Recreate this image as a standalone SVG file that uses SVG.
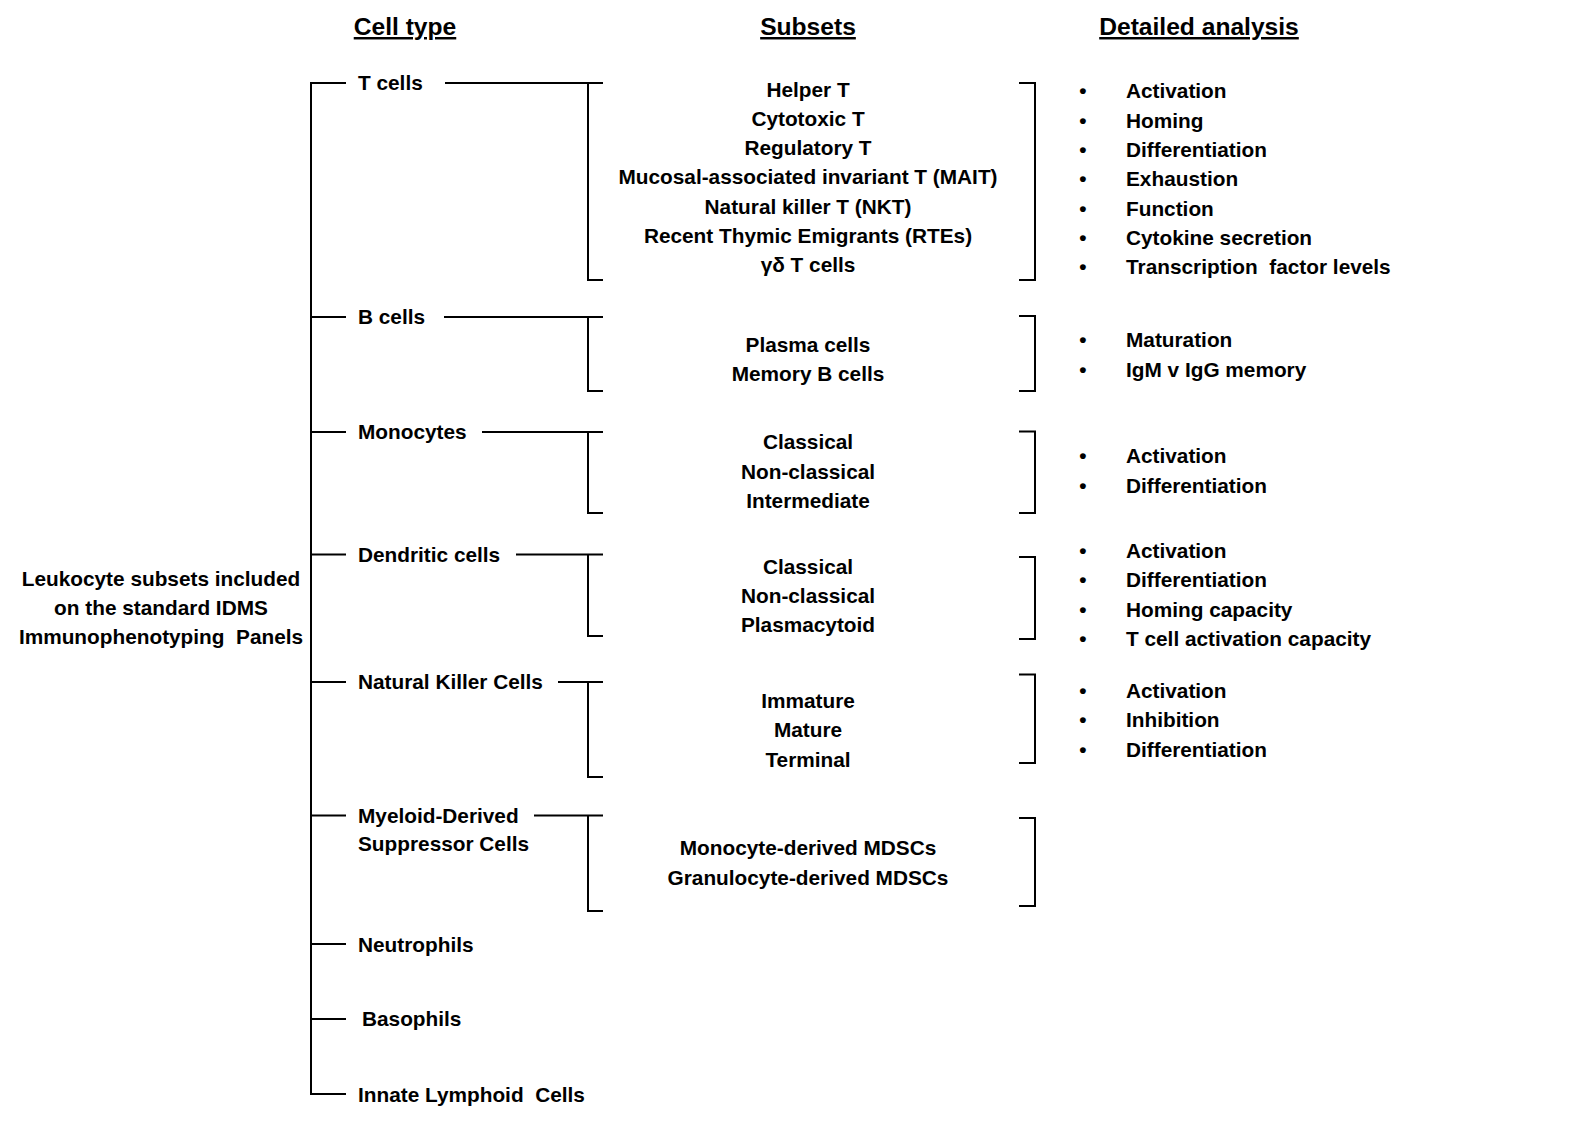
<svg xmlns="http://www.w3.org/2000/svg" width="1578" height="1125" viewBox="0 0 1578 1125">
<style>
text{font-family:"Liberation Sans",Arial,sans-serif;font-weight:bold;font-size:20.8px;fill:#000}
.h{font-size:24.6px;text-decoration:underline}
.c{text-anchor:middle}
.b{text-anchor:middle}
.ln{stroke:#000;stroke-width:2;fill:none}
</style>
<rect width="1578" height="1125" fill="#fff"/>
<g id="headers">
<text class="h c" x="405" y="35">Cell type</text>
<text class="h c" x="808" y="35">Subsets</text>
<text class="h c" x="1199" y="35">Detailed analysis</text>
</g>
<g id="connectors">
<path class="ln" d="M346,83 H311 V1094 H346"/>
<path class="ln" d="M311,317 H346 M311,432 H346 M311,554.5 H346 M311,682 H346 M311,815.5 H346 M311,944 H346 M311,1019 H346"/>
<path class="ln" d="M445,83 H603 M588,83 V280 H603"/>
<path class="ln" d="M444,317 H603 M588,317 V391 H603"/>
<path class="ln" d="M482,432 H603 M588,432 V513 H603"/>
<path class="ln" d="M516,554.5 H603 M588,554.5 V636 H603"/>
<path class="ln" d="M558,682 H603 M588,682 V777 H603"/>
<path class="ln" d="M534,815.5 H603 M588,815.5 V911 H603"/>
<path class="ln" d="M1019,83 H1035 V280 H1019"/>
<path class="ln" d="M1019,316 H1035 V391 H1019"/>
<path class="ln" d="M1019,431.5 H1035 V513 H1019"/>
<path class="ln" d="M1019,557 H1035 V639 H1019"/>
<path class="ln" d="M1019,674.5 H1035 V763 H1019"/>
<path class="ln" d="M1019,818 H1035 V906 H1019"/>
</g>
<g id="root">
<text class="c" x="161" y="586">Leukocyte subsets included</text>
<text class="c" x="161" y="615">on the standard IDMS</text>
<text class="c" x="161" y="644" xml:space="preserve">Immunophenotyping  Panels</text>
</g>
<g id="tcells"><text x="358" y="90">T cells</text></g>
<g id="bcells"><text x="358" y="324">B cells</text></g>
<g id="monocytes"><text x="358" y="439">Monocytes</text></g>
<g id="dendritic"><text x="358" y="561.5">Dendritic cells</text></g>
<g id="nk"><text x="358" y="689">Natural Killer Cells</text></g>
<g id="mdsc"><text x="358" y="822.5">Myeloid-Derived</text><text x="358" y="851">Suppressor Cells</text></g>
<g id="neutrophils"><text x="358" y="952">Neutrophils</text></g>
<g id="basophils"><text x="362" y="1026">Basophils</text></g>
<g id="ilc"><text x="358" y="1101.5" xml:space="preserve">Innate Lymphoid  Cells</text></g>
<g id="t-subsets">
<text class="c" x="808" y="96.7">Helper T</text>
<text class="c" x="808" y="125.9">Cytotoxic T</text>
<text class="c" x="808" y="155.1">Regulatory T</text>
<text class="c" x="808" y="184.3">Mucosal-associated invariant T (MAIT)</text>
<text class="c" x="808" y="213.5">Natural killer T (NKT)</text>
<text class="c" x="808" y="242.7">Recent Thymic Emigrants (RTEs)</text>
<text class="c" x="808" y="272">γδ T cells</text>
</g>
<g id="b-subsets">
<text class="c" x="808" y="351.7">Plasma cells</text>
<text class="c" x="808" y="381">Memory B cells</text>
</g>
<g id="mono-subsets">
<text class="c" x="808" y="449.3">Classical</text>
<text class="c" x="808" y="478.7">Non-classical</text>
<text class="c" x="808" y="507.5">Intermediate</text>
</g>
<g id="dc-subsets">
<text class="c" x="808" y="574.3">Classical</text>
<text class="c" x="808" y="603.3">Non-classical</text>
<text class="c" x="808" y="632.3">Plasmacytoid</text>
</g>
<g id="nk-subsets">
<text class="c" x="808" y="708.3">Immature</text>
<text class="c" x="808" y="737.3">Mature</text>
<text class="c" x="808" y="766.7">Terminal</text>
</g>
<g id="mdsc-subsets">
<text class="c" x="808" y="855.3">Monocyte-derived MDSCs</text>
<text class="c" x="808" y="885">Granulocyte-derived MDSCs</text>
</g>
<g id="t-analysis">
<text class="b" x="1083" y="98.3">•</text><text x="1126" y="98.3">Activation</text>
<text class="b" x="1083" y="127.6">•</text><text x="1126" y="127.6">Homing</text>
<text class="b" x="1083" y="156.9">•</text><text x="1126" y="156.9">Differentiation</text>
<text class="b" x="1083" y="186.2">•</text><text x="1126" y="186.2">Exhaustion</text>
<text class="b" x="1083" y="215.5">•</text><text x="1126" y="215.5">Function</text>
<text class="b" x="1083" y="244.8">•</text><text x="1126" y="244.8">Cytokine secretion</text>
<text class="b" x="1083" y="274">•</text><text x="1126" y="274" xml:space="preserve">Transcription  factor levels</text>
</g>
<g id="b-analysis">
<text class="b" x="1083" y="347.3">•</text><text x="1126" y="347.3">Maturation</text>
<text class="b" x="1083" y="376.7">•</text><text x="1126" y="376.7">IgM v IgG memory</text>
</g>
<g id="mono-analysis">
<text class="b" x="1083" y="463.3">•</text><text x="1126" y="463.3">Activation</text>
<text class="b" x="1083" y="493">•</text><text x="1126" y="493">Differentiation</text>
</g>
<g id="dc-analysis">
<text class="b" x="1083" y="557.7">•</text><text x="1126" y="557.7">Activation</text>
<text class="b" x="1083" y="587.2">•</text><text x="1126" y="587.2">Differentiation</text>
<text class="b" x="1083" y="616.6">•</text><text x="1126" y="616.6">Homing capacity</text>
<text class="b" x="1083" y="646">•</text><text x="1126" y="646">T cell activation capacity</text>
</g>
<g id="nk-analysis">
<text class="b" x="1083" y="697.7">•</text><text x="1126" y="697.7">Activation</text>
<text class="b" x="1083" y="727.3">•</text><text x="1126" y="727.3">Inhibition</text>
<text class="b" x="1083" y="756.8">•</text><text x="1126" y="756.8">Differentiation</text>
</g>
</svg>
